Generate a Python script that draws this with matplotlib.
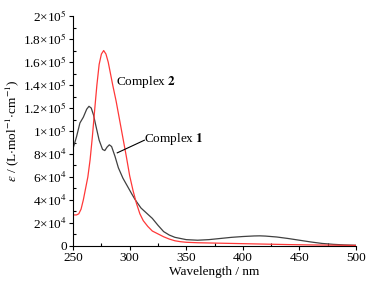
import matplotlib
matplotlib.use("Agg")
import matplotlib.pyplot as plt
from matplotlib.ticker import MultipleLocator

plt.rcParams['font.family'] = ['Liberation Serif', 'DejaVu Serif']
plt.rcParams['mathtext.fontset'] = 'stix'

# Complex 1 (black)
wl1 = [250, 253, 256, 259, 262, 264, 266, 268, 270, 273, 276, 278, 280, 282, 284, 287, 290, 294, 298,
       302, 305, 310, 315, 320, 325, 330, 335, 340, 345, 350, 360, 370, 380, 390, 400, 410, 415, 420,
       430, 440, 450, 460, 470, 480, 490, 500]
eps1 = [85000, 95000, 107000, 112000, 119000, 121500, 120000, 114000, 105000, 92000, 84000, 83000, 86000,
        88000, 86500, 78000, 68000, 59000, 52000, 45000, 40000, 33000, 28500, 24000, 18000, 12500, 9500,
        7500, 6500, 5500, 5000, 5500, 6500, 7500, 8200, 8700, 8800, 8600, 7800, 6500, 5000, 3500, 2200,
        1400, 900, 600]

# Complex 2 (red)
wl2 = [250, 253, 255, 257, 259, 261, 263, 265, 267, 269, 271, 273, 275, 277, 279, 281, 283, 285, 288,
       291, 294, 297, 300, 303, 306, 309, 312, 316, 320, 325, 330, 335, 340, 345, 350, 360, 380, 400,
       420, 440, 460, 480, 500]
eps2 = [27000, 27000, 28000, 32000, 40000, 50000, 60000, 75000, 95000, 118000, 140000, 158000, 167000,
        170000, 167000, 160000, 150000, 140000, 126000, 110000, 94000, 78000, 61000, 48000, 37000, 28000,
        22000, 17000, 13000, 10500, 8000, 6000, 4500, 3700, 3200, 2800, 2400, 2000, 1600, 1200, 900, 700, 500]

xticks = [250, 300, 350, 400, 450, 500]
yticks = [0, 20000, 40000, 60000, 80000, 100000, 120000, 140000, 160000, 180000, 200000]
ylabels = ['0', r'2×10$^4$', r'4×10$^4$', r'6×10$^4$', r'8×10$^4$', r'1×10$^5$',
           r'1.2×10$^5$', r'1.4×10$^5$', r'1.6×10$^5$', r'1.8×10$^5$', r'2×10$^5$']

fs = 9.5

fig = plt.figure(figsize=(3.77, 2.87), dpi=100)
ax = fig.add_axes([0.194, 0.143, 0.750, 0.801])

ax.plot(wl1, eps1, color='#404040', lw=0.9)
ax.plot(wl2, eps2, color='#ff3838', lw=0.9)

ax.set_xlim(250, 500)
ax.set_ylim(0, 200000)
ax.set_xticks(xticks)
ax.set_yticks(yticks)
ax.set_yticklabels(ylabels)
ax.xaxis.set_minor_locator(MultipleLocator(25))
ax.yaxis.set_minor_locator(MultipleLocator(10000))
ax.tick_params(axis='both', which='major', direction='out', length=3, width=0.8, labelsize=fs, pad=1.5)
ax.tick_params(axis='both', which='minor', direction='in', length=2, width=0.8)

for s in ['top', 'right']:
    ax.spines[s].set_visible(False)
for s in ['left', 'bottom']:
    ax.spines[s].set_linewidth(0.8)

ax.set_xlabel('Wavelength / nm', fontsize=fs, labelpad=1)
ax.set_ylabel(r'$\varepsilon$ / (L$\cdot$mol$^{-1}$$\cdot$cm$^{-1}$)', fontsize=fs, labelpad=2)

ax.text(287.5, 143000, r'Complex $\mathbf{2}$', fontsize=fs, va='center', ha='left')
ax.text(313, 93000, r'Complex $\mathbf{1}$', fontsize=fs, va='center', ha='left')
ax.plot([289, 313], [81000, 92000], color='black', lw=0.8)

fig.savefig('out.png', dpi=100)
